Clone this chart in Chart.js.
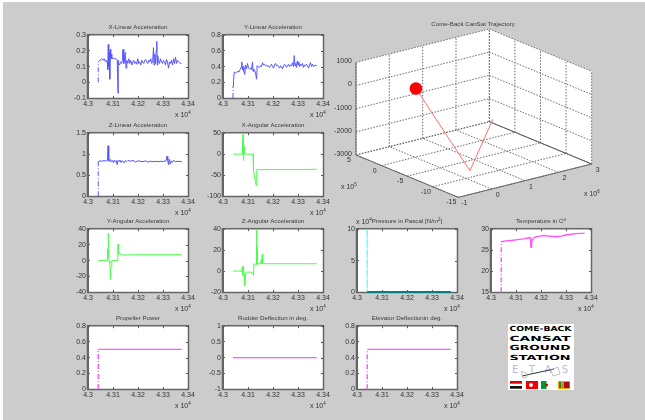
<!DOCTYPE html>
<html lang="en">
<head>
<meta charset="UTF-8">
<title>Come-Back CanSat Ground Station</title>
<script src="https://cdn.jsdelivr.net/npm/chart.js"></script>
<style>
  html, body { margin: 0; padding: 0; background: #fff; }
  #page { position: absolute; left: 3px; top: 2px; width: 642px; height: 418px; background: #cccccc; }
  #stage { position: absolute; left: 0; top: 0; width: 645px; height: 420px; overflow: hidden; font-family: "Liberation Sans", sans-serif; color: #333; }
  canvas { position: absolute; }
  .title { position: absolute; font-size: 6.2px; line-height: 9px; white-space: nowrap; transform: translateX(-50%); color: #3a3a3a; }
  .mult { position: absolute; font-size: 7px; line-height: 9px; white-space: nowrap; color: #333; }
  .mult sup { font-size: 4.5px; line-height: 0; vertical-align: 3px; }
  .title sup { font-size: 4.5px; line-height: 0; vertical-align: 2px; }
  #logo { position: absolute; left: 508px; top: 324px; }
</style>
</head>
<body>
<div id="page"></div>
<div id="stage"></div>
<script>
// ---- data (time axis in raw units, 4.3 x 10^4 = 43000) ----
const xTickValues = [43000, 43100, 43200, 43300, 43400];

const xLinTime = [43041,43041,43048,43055,43060,43065,43070,43074,43077,43079,43081,43083,43085,43087,43089,43091,43093,43095,43100,43106,43112,43117,43120,43120,43122,43126,43130,43134,43137,43140,43143,43146,43149,43152,43155,43159,43163,43167,43171,43175,43179,43183,43187,43191,43195,43199,43203,43207,43211,43215,43219,43223,43227,43231,43235,43239,43243,43247,43251,43255,43259,43262,43264,43267,43270,43273,43275,43277,43279,43282,43286,43290,43294,43298,43302,43306,43310,43314,43318,43322,43326,43330,43334,43338,43342,43346,43350,43354,43358,43362,43366,43374];
const xLinValues = [0,0.13,0.14,0.15,0.14,0.15,0.13,0.14,0.13,0.08,0.24,0.1,0.19,0.02,0.21,0.16,0.18,0.15,0.155,0.15,0.15,0.14,-0.07,0.14,0.12,0.11,0.13,0.12,0.14,0.21,0.12,0.14,0.19,0.09,0.14,0.12,0.15,0.12,0.14,0.11,0.13,0.14,0.12,0.13,0.115,0.15,0.12,0.13,0.11,0.14,0.13,0.12,0.14,0.145,0.13,0.12,0.14,0.13,0.15,0.12,0.14,0.22,0.11,0.18,0.12,0.2,0.26,0.11,0.17,0.13,0.12,0.15,0.13,0.12,0.14,0.13,0.11,0.145,0.13,0.09,0.13,0.12,0.14,0.11,0.15,0.12,0.16,0.12,0.14,0.13,0.125,0.12];

const yLinTime = [43040,43040,43042,43045,43050,43055,43060,43064,43068,43072,43075,43078,43080,43083,43087,43090,43094,43098,43102,43106,43110,43114,43118,43120,43123,43127,43131,43134,43136,43136,43142,43146,43150,43154,43158,43162,43166,43170,43174,43178,43182,43186,43190,43194,43198,43202,43206,43210,43214,43218,43222,43226,43230,43234,43238,43242,43246,43250,43254,43258,43262,43266,43270,43274,43278,43282,43285,43288,43291,43294,43297,43300,43303,43306,43310,43314,43318,43322,43326,43330,43334,43338,43342,43346,43350,43354,43358,43362,43368,43375];
const yLinValues = [0,0.15,0.22,0.33,0.32,0.33,0.34,0.33,0.36,0.39,0.46,0.36,0.4,0.34,0.3,0.42,0.37,0.44,0.38,0.37,0.38,0.36,0.46,0.34,0.37,0.35,0.3,0.24,0.35,0.41,0.4,0.39,0.41,0.4,0.45,0.42,0.43,0.41,0.42,0.4,0.41,0.39,0.41,0.43,0.4,0.38,0.42,0.44,0.41,0.42,0.4,0.38,0.41,0.4,0.37,0.41,0.43,0.42,0.39,0.41,0.43,0.4,0.42,0.41,0.45,0.4,0.54,0.41,0.44,0.39,0.47,0.42,0.46,0.4,0.43,0.41,0.44,0.39,0.42,0.41,0.43,0.41,0.38,0.42,0.45,0.4,0.43,0.4,0.42,0.41];

const zLinTime = [43040,43041,43048,43056,43064,43072,43078,43080,43083,43086,43090,43094,43098,43102,43106,43110,43114,43116,43120,43124,43128,43132,43136,43140,43145,43150,43155,43160,43170,43180,43190,43200,43210,43220,43230,43240,43250,43260,43270,43280,43290,43300,43306,43310,43313,43316,43319,43322,43325,43329,43333,43337,43342,43350,43360,43375];
const zLinValues = [0,0.82,0.84,0.83,0.85,0.83,0.85,1.2,0.84,0.82,0.87,0.82,0.85,0.79,0.86,0.82,0.84,0.75,0.85,0.82,0.86,0.8,0.84,0.83,0.79,0.85,0.82,0.85,0.83,0.85,0.81,0.84,0.83,0.82,0.84,0.81,0.83,0.82,0.83,0.82,0.83,0.82,0.84,0.82,0.86,0.95,0.85,0.75,0.88,0.76,0.84,0.8,0.85,0.82,0.83,0.82];

const xAngTime = [43040,43077,43078,43079,43080,43081,43083,43084,43085,43087,43120,43121,43123,43133,43135,43136,43200,43300,43375];
const xAngValues = [0,0,30,0,47,20,-15,18,0,0,0,-20,-40,-75,-37,-37,-37,-37,-36];

const yAngTime = [43041,43077,43078,43080,43081,43084,43087,43090,43092,43095,43118,43119,43120,43122,43125,43130,43140,43200,43300,43375];
const yAngValues = [0,0,14,4,35,0,-3,-24,-8,0,0,8,21,8,10,8,7,7.5,7.5,7.5];

const zAngTime = [43040,43073,43075,43077,43079,43081,43084,43087,43090,43094,43110,43120,43122,43124,43130,43133,43134,43135,43137,43138,43140,43150,43153,43155,43157,43159,43200,43300,43375];
const zAngValues = [0,0,-1,4,-4,5,-3,-14,-3,-1,-1,-2,-4,7,6,6,40,7,23,7,7,7,11,7,16,7,7,7,7];

const pressureTime = [43040,43041,43200,43375];
const pressureValues = [100000,0,0,0];

const tempTime = [43040,43041,43045,43060,43080,43100,43130,43150,43156,43158,43160,43162,43168,43180,43195,43210,43225,43240,43260,43280,43300,43320,43340,43355,43375];
const tempValues = [15,27,27.05,27.2,27.3,27.45,27.7,27.95,28,27.4,25.7,26.9,27.8,28.2,28.35,28.5,28.4,28.3,28.2,28.35,28.6,28.8,28.95,29,29];

const propTime = [43041,43041,43200,43375];
const propValues = [0,0.505,0.505,0.505];
const rudderTime = [43040,43200,43375];
const rudderValues = [0,0,0];
const elevTime = [43040,43041,43200,43375];
const elevValues = [0,0.505,0.505,0.505];

// trajectory, x in 10^6, y in 10^5, z plain
const trajX = [0.03, 0.423, 2.96];
const trajY = [0, -8, 4.07];
const trajZ = [-40, -3000, -2800];
const xTicks3d = [-1, 0, 1, 2, 3];
const yTicks3d = [5, 0, -5, -10, -15];
const zTicks3d = [1000, 0, -1000, -2000, -3000];

// ---- small plots ----
const BLUE = '#5555ff', GREEN = '#4dff4d', PINK = '#ff55ff';
const COLS = [88, 223, 357, 491];
const ROWS = [33, 131, 227, 324];
const PLOT_H = 65, PLOT_W = 100;
const PAD_L = 30, PAD_R = 14, PAD_T = 6, PAD_B = 16;

const panels = [
  { title: 'X-Linear Acceleration', col: 0, row: 0, t: xLinTime, v: xLinValues, color: BLUE, min: -0.1, max: 0.3, step: 0.1 },
  { title: 'Y-Linear Acceleration', col: 1, row: 0, t: yLinTime, v: yLinValues, color: BLUE, min: 0, max: 0.8, step: 0.2 },
  { title: 'Z-Linear Acceleration', col: 0, row: 1, t: zLinTime, v: zLinValues, color: BLUE, min: 0, max: 1.5, step: 0.5 },
  { title: 'X-Angular Acceleration', col: 1, row: 1, t: xAngTime, v: xAngValues, color: GREEN, min: -100, max: 50, step: 50 },
  { title: 'Y-Angular Acceleration', col: 0, row: 2, t: yAngTime, v: yAngValues, color: GREEN, min: -40, max: 40, step: 20 },
  { title: 'Z-Angular Acceleration', col: 1, row: 2, t: zAngTime, v: zAngValues, color: GREEN, min: -20, max: 40, step: 20 },
  { title: 'Pressure in Pascal [N/m<sup>2</sup>]', col: 2, row: 2, t: pressureTime, v: pressureValues, color: '#66ffff', min: 0, max: 100000, step: 50000, base: '#008080', yScale: 1e4 },
  { title: 'Temperature in C<sup>o</sup>', col: 3, row: 2, t: tempTime, v: tempValues, color: PINK, min: 15, max: 30, step: 5, width: 1.4 },
  { title: 'Propeller Power', col: 0, row: 3, t: propTime, v: propValues, color: PINK, min: 0, max: 0.8, step: 0.2, width: 1.4 },
  { title: 'Rudder Deflection in deg.', col: 1, row: 3, t: rudderTime, v: rudderValues, color: PINK, min: -1, max: 1, step: 0.5, width: 1.4 },
  { title: 'Elevator Deflectionin deg.', col: 2, row: 3, t: elevTime, v: elevValues, color: PINK, min: 0, max: 0.8, step: 0.2, width: 1.4 }
];

const stage = document.getElementById('stage');

function addCanvas(left, top, w, h) {
  const c = document.createElement('canvas');
  c.style.left = left + 'px';
  c.style.top = top + 'px';
  c.style.width = w + 'px';
  c.style.height = h + 'px';
  c.width = w;
  c.height = h;
  stage.appendChild(c);
  return c;
}

function addText(cls, html, left, top) {
  const d = document.createElement('div');
  d.className = cls;
  d.innerHTML = html;
  d.style.left = left + 'px';
  d.style.top = top + 'px';
  stage.appendChild(d);
}

// matlab style box: white area, frame all round, ticks inside on all sides
const boxPlugin = {
  id: 'box',
  beforeDatasetsDraw(chart) {
    const { ctx, chartArea: a, scales } = chart;
    ctx.save();
    ctx.strokeStyle = '#666';
    ctx.lineWidth = 1.5;
    ctx.strokeRect(a.left - 0.5, a.top - 0.5, a.right - a.left + 1, a.bottom - a.top + 1);
    ctx.strokeStyle = '#555';
    ctx.lineWidth = 1;
    ctx.beginPath();
    scales.x.ticks.forEach(t => {
      const p = Math.round(scales.x.getPixelForValue(t.value)) + 0.5;
      ctx.moveTo(p, a.top); ctx.lineTo(p, a.top + 2);
    });
    scales.y.ticks.forEach(t => {
      const p = Math.round(scales.y.getPixelForValue(t.value)) + 0.5;
      ctx.moveTo(a.right, p); ctx.lineTo(a.right - 2, p);
    });
    ctx.stroke();
    ctx.restore();
  }
};

function drawPanel(p) {
  const left = COLS[p.col], top = ROWS[p.row];
  const canvas = addCanvas(left - PAD_L, top - PAD_T, PLOT_W + PAD_L + PAD_R, PLOT_H + PAD_T + PAD_B);
  const points = p.t.map((t, i) => ({ x: t, y: p.v[i] }));
  const steepStart = p.t[1] - p.t[0] < 3;
  new Chart(canvas, {
    type: 'line',
    data: {
      datasets: [{
        data: points,
        borderColor: p.color,
        borderWidth: p.width || 1,
        pointRadius: 0,
        tension: 0,
        clip: false,
        segment: {
          // the rise from the start value is the dash-dot bit that shows in the picture
          borderDash: ctx => (steepStart && ctx.p0DataIndex === 0) ? [5, 2, 1, 2] : undefined,
          borderColor: ctx => (p.base && ctx.p0DataIndex > 0) ? p.base : undefined,
          borderWidth: ctx => (p.base && ctx.p0DataIndex > 0) ? 2 : undefined
        }
      }]
    },
    options: {
      responsive: false,
      animation: false,
      devicePixelRatio: 1,
      layout: { padding: { top: PAD_T, right: PAD_R, left: 0, bottom: 0 } },
      plugins: { legend: { display: false }, tooltip: { enabled: false } },
      scales: {
        x: {
          type: 'linear',
          min: 43000,
          max: 43400,
          afterFit: s => { s.height = PAD_B; },
          afterBuildTicks: s => { s.ticks = xTickValues.map(v => ({ value: v })); },
          border: { color: '#666' },
          grid: { drawOnChartArea: false, tickLength: -2, tickColor: '#555' },
          ticks: {
            padding: 4,
            maxRotation: 0,
            autoSkip: false,
            color: '#333',
            font: { family: 'Liberation Sans', size: 7 },
            callback: v => String(v / 10000)
          }
        },
        y: {
          min: p.min,
          max: p.max,
          afterFit: s => { s.width = PAD_L; },
          border: { color: '#666' },
          grid: { drawOnChartArea: false, tickLength: -2, tickColor: '#555' },
          ticks: {
            stepSize: p.step,
            padding: 4,
            autoSkip: false,
            color: '#333',
            font: { family: 'Liberation Sans', size: 7 },
            callback: v => String(+(v / (p.yScale || 1)).toFixed(2))
          }
        }
      }
    },
    plugins: [{
      id: 'whiteArea',
      beforeDraw(chart) {
        const { ctx, chartArea: a } = chart;
        ctx.save();
        ctx.fillStyle = '#fff';
        ctx.fillRect(a.left, a.top, a.right - a.left, a.bottom - a.top);
        ctx.restore();
      }
    }, boxPlugin]
  });
  addText('title', p.title, left + PLOT_W / 2, top - 11);
  addText('mult', 'x 10<sup>4</sup>', left + 87, top + PLOT_H + 12);
}

panels.forEach(drawPanel);
addText('mult', 'x 10<sup>4</sup>', 356, 217);

// ---- 3d trajectory, flat projection onto a hidden scatter chart ----
const VIEW_W = 300, VIEW_H = 210;
function project(x, y, z) {
  const u = x + 1, v = y + 15, w = z + 3000;
  return {
    x: (385 + 100 * u - 15.35 * v) / 3,
    y: (562 - 25 * u - 6.35 * v - 0.0695 * w) / 3
  };
}
const xMin = xTicks3d[0], xMax = xTicks3d[4];
const yMin = yTicks3d[4], yMax = yTicks3d[0];
const zMin = zTicks3d[4], zMax = zTicks3d[0];

function lineSet(a, b, color, dash, width) {
  return {
    data: [project(...a), project(...b)],
    showLine: true,
    pointRadius: 0,
    borderColor: color,
    borderWidth: width || 1,
    borderDash: dash,
    order: 5
  };
}

const GRID = '#6a6a6a', GRID_DASH = [1.5, 1.5], EDGE = '#666';
const sets3d = [];
// red marker and path on top
sets3d.push({
  data: [project(trajX[0], trajY[0], trajZ[0])],
  pointRadius: 6.3,
  pointBackgroundColor: '#ff0000',
  pointBorderWidth: 0,
  order: 1
});
sets3d.push({
  data: trajX.map((x, i) => project(x, trajY[i], trajZ[i])),
  showLine: true,
  pointRadius: 0,
  borderColor: '#ff7070',
  borderWidth: 1,
  order: 2
});
// white panes
sets3d.push({
  data: [
    project(xMin, yMax, zMax), project(xMax, yMax, zMax), project(xMax, yMin, zMax),
    project(xMax, yMin, zMin), project(xMin, yMin, zMin), project(xMin, yMax, zMin),
    project(xMin, yMax, zMax)
  ],
  showLine: true,
  fill: 'shape',
  backgroundColor: '#fff',
  borderWidth: 0,
  pointRadius: 0,
  order: 10
});
xTicks3d.forEach(x => {
  sets3d.push(lineSet([x, yMax, zMin], [x, yMax, zMax], GRID, GRID_DASH));
  sets3d.push(lineSet([x, yMin, zMin], [x, yMax, zMin], GRID, GRID_DASH));
});
yTicks3d.forEach(y => {
  sets3d.push(lineSet([xMax, y, zMin], [xMax, y, zMax], GRID, GRID_DASH));
  sets3d.push(lineSet([xMin, y, zMin], [xMax, y, zMin], GRID, GRID_DASH));
});
zTicks3d.forEach(z => {
  sets3d.push(lineSet([xMin, yMax, z], [xMax, yMax, z], GRID, GRID_DASH));
  sets3d.push(lineSet([xMax, yMax, z], [xMax, yMin, z], GRID, GRID_DASH));
});
// solid box edges
sets3d.push(lineSet([xMin, yMax, zMin], [xMin, yMax, zMax], EDGE));
sets3d.push(lineSet([xMin, yMax, zMin], [xMin, yMin, zMin], EDGE));
sets3d.push(lineSet([xMin, yMin, zMin], [xMax, yMin, zMin], EDGE));
sets3d.push(lineSet([xMax, yMax, zMin], [xMax, yMin, zMin], EDGE));

const axisLabels3d = {
  id: 'axisLabels3d',
  afterDraw(chart) {
    const { ctx, scales } = chart;
    ctx.save();
    ctx.fillStyle = '#333';
    ctx.font = '7px "Liberation Sans"';
    ctx.textBaseline = 'middle';
    ctx.textAlign = 'right';
    zTicks3d.forEach(z => {
      const p = project(xMin, yMax, z);
      ctx.fillText(String(z), scales.x.getPixelForValue(p.x) - 4, scales.y.getPixelForValue(p.y) - 1);
    });
    ctx.textAlign = 'center';
    yTicks3d.forEach(y => {
      const p = project(xMin, y, zMin);
      ctx.fillText(String(y), scales.x.getPixelForValue(p.x) - 7, scales.y.getPixelForValue(p.y) + 5);
    });
    xTicks3d.forEach(x => {
      const p = project(x, yMin, zMin);
      ctx.fillText(String(x), scales.x.getPixelForValue(p.x) + 6, scales.y.getPixelForValue(p.y) + 6);
    });
    ctx.restore();
  }
};

new Chart(addCanvas(330, 10, VIEW_W, VIEW_H), {
  type: 'scatter',
  data: { datasets: sets3d },
  options: {
    responsive: false,
    animation: false,
    devicePixelRatio: 1,
    layout: { padding: 0, autoPadding: false },
    plugins: { legend: { display: false }, tooltip: { enabled: false } },
    scales: {
      x: { display: false, min: 0, max: VIEW_W },
      y: { display: false, min: 0, max: VIEW_H, reverse: true }
    }
  },
  plugins: [axisLabels3d]
});
addText('title', 'Come-Back CanSat Trajectory', 473, 19);
addText('mult', 'x 10<sup>5</sup>', 341, 182);
addText('mult', 'x 10<sup>6</sup>', 584, 189);

// ---- logo block ----
const logo = document.createElement('div');
logo.id = 'logo';
logo.innerHTML = `
<svg width="66" height="66" viewBox="0 0 66 66" xmlns="http://www.w3.org/2000/svg" font-family="DejaVu Sans" font-weight="bold" font-size="7">
  <rect width="66" height="66" fill="#fff"/>
  <text x="1.5" y="7" textLength="62" lengthAdjust="spacingAndGlyphs">COME-BACK</text>
  <text x="1.5" y="16.5" textLength="61" lengthAdjust="spacingAndGlyphs">CANSAT</text>
  <text x="1.5" y="26" textLength="61" lengthAdjust="spacingAndGlyphs">GROUND</text>
  <text x="1.5" y="35.5" textLength="61" lengthAdjust="spacingAndGlyphs">STATION</text>
  <text x="4" y="49" font-weight="normal" font-size="10" fill="#b4bce6" textLength="56">ETAS</text>
  <line x1="14" y1="52" x2="46" y2="45" stroke="#333" stroke-width="1"/>
  <path d="M13 47 l5 2 l1 4 l-4 1 z M43 46 l7 -3 l2 7 l-7 2 z" fill="none" stroke="#aaa" stroke-width="0.7"/>
  <rect x="2" y="57" width="12" height="2.7" fill="#e00000"/>
  <rect x="2" y="62" width="12" height="2.7" fill="#111"/>
  <rect x="18" y="57" width="12" height="8" fill="#f00000"/>
  <circle cx="23" cy="61" r="2" fill="#fff"/>
  <rect x="33" y="57" width="5.5" height="8" fill="#009933"/>
  <circle cx="38.5" cy="61" r="1.6" fill="#e00000"/>
  <rect x="50" y="57" width="12" height="8" fill="#e0a800"/>
  <rect x="51" y="58" width="2" height="6" fill="#1a8a3a"/>
  <rect x="53.5" y="58" width="2" height="6" fill="#e87a00"/>
  <rect x="56" y="58" width="5.5" height="6" fill="#a01020"/>
</svg>`;
stage.appendChild(logo);
</script>
</body>
</html>
